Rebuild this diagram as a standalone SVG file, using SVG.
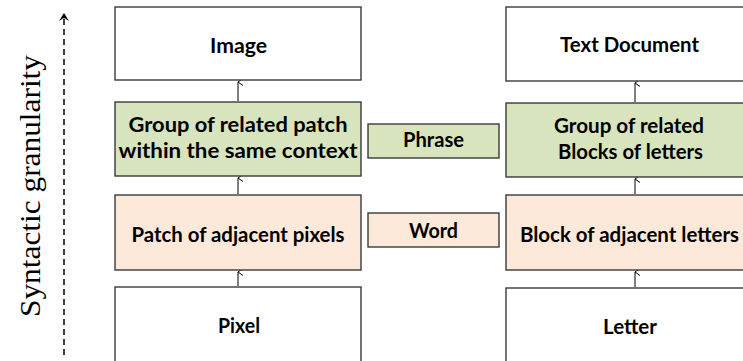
<svg xmlns="http://www.w3.org/2000/svg" width="743" height="361" viewBox="0 0 743 361">
<style>
.box{stroke:#3a3a3a;stroke-width:1.4}
.w{fill:#ffffff}
.g{fill:#d7e4bd}
.p{fill:#fde9d9}
.t{font-family:Lato,"Open Sans",sans-serif;font-weight:bold;font-size:20.5px;fill:#000;text-anchor:middle}
.c{stroke:#000;stroke-width:1;fill:none}
</style>
<defs>
<marker id="ah" viewBox="0 0 10 10" refX="5" refY="1" markerWidth="10" markerHeight="10" markerUnits="userSpaceOnUse" orient="auto-start-reverse">
<path d="M1.5,6 L5,1 L8.5,6" fill="none" stroke="#000" stroke-width="1"/>
</marker>
</defs>
<rect width="743" height="361" fill="#fff"/>
<g id="axis">
<line x1="64" y1="355" x2="64" y2="16" stroke="#000" stroke-width="1.5" stroke-dasharray="6,4"/>
<path d="M59,21 L64,13 L69,21 L64,18 Z" fill="#000"/>
<text transform="translate(40,186) rotate(-90)" font-family="Liberation Serif,serif" font-size="30" text-anchor="middle" fill="#000" textLength="262" lengthAdjust="spacingAndGlyphs">Syntactic granularity</text>
</g>
<g id="connectors">
<line class="c" x1="238" y1="101" x2="238" y2="82" marker-end="url(#ah)"/>
<line class="c" x1="238" y1="194" x2="238" y2="178" marker-end="url(#ah)"/>
<line class="c" x1="238" y1="286" x2="238" y2="272" marker-end="url(#ah)"/>
<line class="c" x1="635" y1="102" x2="635" y2="83" marker-end="url(#ah)"/>
<line class="c" x1="635" y1="194" x2="635" y2="179" marker-end="url(#ah)"/>
<line class="c" x1="635" y1="287" x2="635" y2="272" marker-end="url(#ah)"/>
</g>
<g id="image"><rect class="box w" x="115" y="7" width="246" height="73"/><text class="t" x="238.5" y="53" textLength="57" lengthAdjust="spacingAndGlyphs">Image</text></g>
<g id="group-patch"><rect class="box g" x="115" y="102" width="246" height="74"/><text class="t" x="238" y="132" textLength="219" lengthAdjust="spacingAndGlyphs">Group of related patch</text><text class="t" x="238" y="158" textLength="239" lengthAdjust="spacingAndGlyphs">within the same context</text></g>
<g id="patch"><rect class="box p" x="115" y="195" width="246" height="75"/><text class="t" x="238" y="242" textLength="213" lengthAdjust="spacingAndGlyphs">Patch of adjacent pixels</text></g>
<g id="pixel"><rect class="box w" x="115" y="287" width="246" height="90"/><text class="t" x="239" y="333" textLength="42" lengthAdjust="spacingAndGlyphs">Pixel</text></g>
<g id="phrase"><rect class="box g" x="368" y="124" width="131" height="34"/><text class="t" x="433.5" y="147" textLength="61" lengthAdjust="spacingAndGlyphs">Phrase</text></g>
<g id="word"><rect class="box p" x="368" y="213" width="131" height="34"/><text class="t" x="433.5" y="238" textLength="49" lengthAdjust="spacingAndGlyphs">Word</text></g>
<g id="text-document"><rect class="box w" x="506" y="7" width="250" height="74"/><text class="t" x="629.5" y="52" textLength="139" lengthAdjust="spacingAndGlyphs">Text Document</text></g>
<g id="group-blocks"><rect class="box g" x="506" y="103" width="250" height="74"/><text class="t" x="629" y="133" textLength="150" lengthAdjust="spacingAndGlyphs">Group of related</text><text class="t" x="630.5" y="159" textLength="145" lengthAdjust="spacingAndGlyphs">Blocks of letters</text></g>
<g id="block"><rect class="box p" x="506" y="195" width="250" height="75"/><text class="t" x="629.5" y="242" textLength="219" lengthAdjust="spacingAndGlyphs">Block of adjacent letters</text></g>
<g id="letter"><rect class="box w" x="506" y="288" width="250" height="90"/><text class="t" x="630" y="334" textLength="54" lengthAdjust="spacingAndGlyphs">Letter</text></g>
</svg>
